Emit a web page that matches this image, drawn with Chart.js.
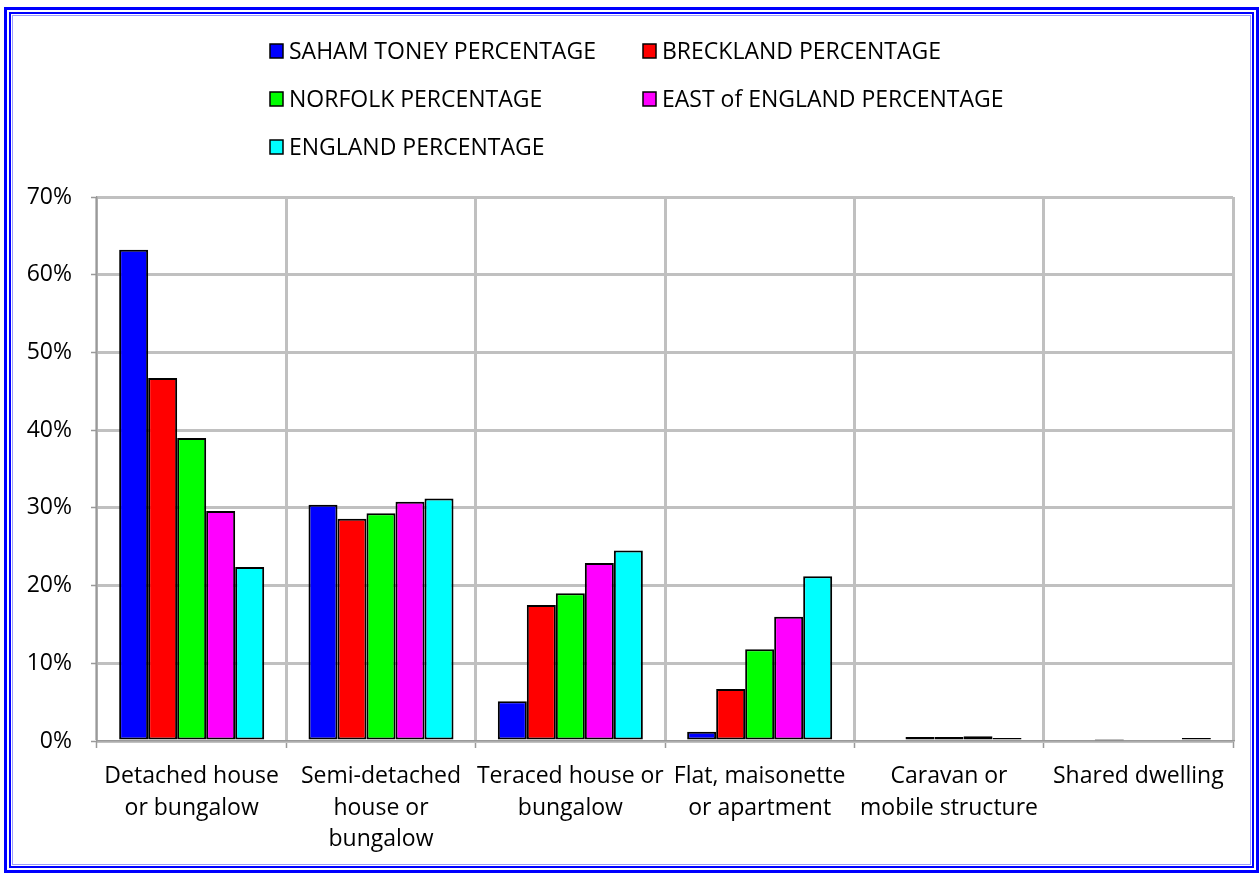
<!DOCTYPE html>
<html>
<head>
<meta charset="utf-8">
<script src="https://cdn.jsdelivr.net/npm/chart.js@4"></script>
<style>
  html, body { margin: 0; padding: 0; background: #fff; }
  #wrap { position: relative; width: 1259px; height: 873px; overflow: hidden; }
  #chart { position: absolute; left: 0; top: 0; }
  .frame { position: absolute; box-sizing: border-box; pointer-events: none; }
  #outer { left: 4px; top: 7px; width: 1255px; height: 866px; border: 3px solid #0000ff; }
  #inner { left: 9px; top: 12px; width: 1245px; height: 856px; border: 2px solid #0000ff;
           box-shadow: inset 0 0 0 1px #fff, inset 0 0 0 2px #9a9aff; }
</style>
</head>
<body>
<div id="wrap">
  <canvas id="chart" width="1259" height="873"></canvas>
  <div class="frame" id="outer"></div>
  <div class="frame" id="inner"></div>
</div>
<script>
// ---------- DATA ----------
const categories = [
  ['Detached house', 'or bungalow'],
  ['Semi-detached', 'house or', 'bungalow'],
  ['Teraced house or', 'bungalow'],
  ['Flat, maisonette', 'or apartment'],
  ['Caravan or', 'mobile structure'],
  ['Shared dwelling']
];
const sahamToney = [63.2, 30.4, 5.1, 1.2, 0.2, 0.0];
const breckland = [46.7, 28.6, 17.5, 6.7, 0.5, 0.1];
const norfolk = [39.0, 29.3, 19.0, 11.8, 0.5, 0.2];
const eastOfEngland = [29.6, 30.8, 22.9, 16.0, 0.6, 0.2];
const england = [22.4, 31.2, 24.5, 21.2, 0.4, 0.4];
const seriesNames = ['SAHAM TONEY PERCENTAGE', 'BRECKLAND PERCENTAGE', 'NORFOLK PERCENTAGE',
  'EAST of ENGLAND PERCENTAGE', 'ENGLAND PERCENTAGE'];
const seriesColors = ['#0000ff', '#ff0000', '#00ff00', '#ff00ff', '#00ffff'];
const yTicks = [0, 10, 20, 30, 40, 50, 60, 70];

const FONT = { family: "'Open Sans', sans-serif", size: 23 };

// ---------- LEGEND (two column grid, like the original) ----------
const gridLegend = {
  id: 'gridLegend',
  afterDraw(chart) {
    const ctx = chart.ctx;
    const colX = [270, 643];
    ctx.save();
    ctx.font = `${FONT.size}px ${FONT.family}`;
    ctx.textBaseline = 'middle';
    ctx.textAlign = 'left';
    chart.data.datasets.forEach((ds, i) => {
      const x = colX[i % 2];
      const y = 51 + Math.floor(i / 2) * 48;
      ctx.fillStyle = ds.backgroundColor;
      ctx.fillRect(x, y - 7, 13, 14);
      ctx.strokeStyle = '#000';
      ctx.lineWidth = 1.5;
      ctx.strokeRect(x, y - 7, 13, 14);
      ctx.fillStyle = '#000';
      ctx.fillText(ds.label, x + 19, y + 1);
    });
    ctx.restore();
  }
};

const whiteBg = {
  id: 'whiteBg',
  beforeDraw(chart) {
    const ctx = chart.ctx;
    ctx.save();
    ctx.fillStyle = '#fff';
    ctx.fillRect(0, 0, chart.width, chart.height);
    ctx.restore();
  }
};

// ---------- CHART ----------
const allValues = [sahamToney, breckland, norfolk, eastOfEngland, england];

new Chart(document.getElementById('chart'), {
  type: 'bar',
  data: {
    labels: categories,
    datasets: allValues.map((vals, i) => ({
      label: seriesNames[i],
      data: vals,
      backgroundColor: seriesColors[i],
      borderColor: '#000',
      borderWidth: 2,
      borderSkipped: false,
      barPercentage: 1,
      categoryPercentage: 0.766
    }))
  },
  options: {
    responsive: false,
    animation: false,
    layout: { padding: { top: 197, right: 26, bottom: 0, left: 0 } },
    plugins: {
      legend: { display: false },
      tooltip: { enabled: false }
    },
    scales: {
      x: {
        grid: { color: '#c0c0c0', lineWidth: 3, tickColor: '#999', tickWidth: 1.5, tickLength: 7, offset: true },
        border: { color: '#999', width: 1.5 },
        ticks: { color: '#000', font: { ...FONT, lineHeight: 1.37 }, padding: 13, maxRotation: 0, autoSkip: false },
        afterFit(scale) { scale.height = 132; }
      },
      y: {
        min: 0,
        max: 70,
        afterBuildTicks(scale) { scale.ticks = yTicks.map(v => ({ value: v })); },
        grid: { color: '#c0c0c0', lineWidth: 3, tickColor: '#999', tickWidth: 1.5, tickLength: 6 },
        border: { color: '#999', width: 1.5 },
        ticks: { color: '#000', font: FONT, padding: 19, callback: v => v + '%' },
        afterFit(scale) { scale.width = 97; }
      }
    }
  },
  plugins: [whiteBg, gridLegend]
});
</script>
</body>
</html>
